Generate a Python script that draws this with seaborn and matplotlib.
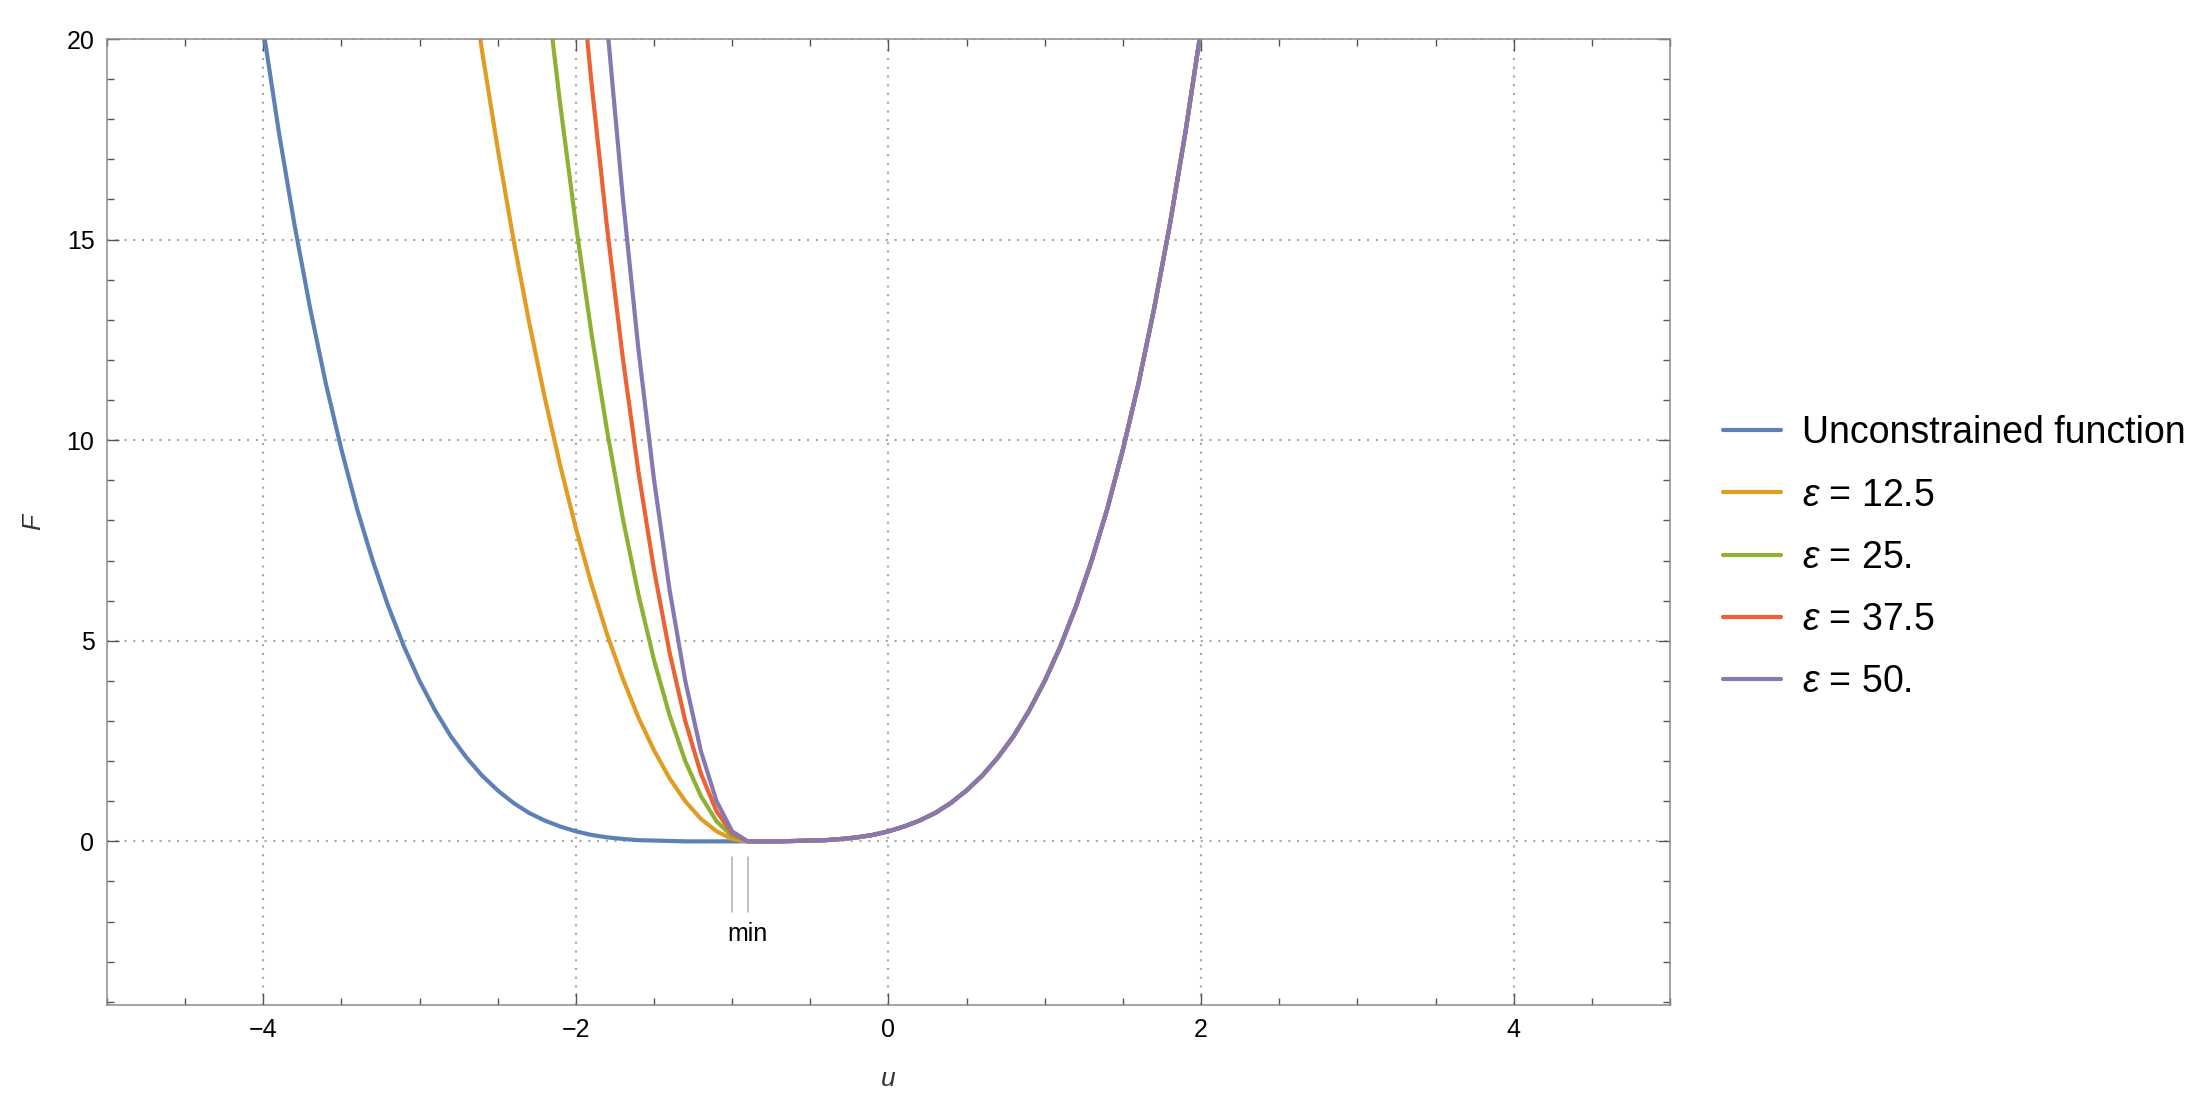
import pandas as pd
import seaborn as sns
from matplotlib import pyplot as plt
from matplotlib.ticker import MultipleLocator

u_grid = [-4.0, -3.9, -3.8, -3.7, -3.6, -3.5, -3.4, -3.3, -3.2, -3.1,
          -3.0, -2.9, -2.8, -2.7, -2.6, -2.5, -2.4, -2.3, -2.2, -2.1,
          -2.0, -1.9, -1.8, -1.7, -1.6, -1.5, -1.4, -1.3, -1.2, -1.1,
          -1.0, -0.9, -0.8, -0.7, -0.6, -0.5, -0.4, -0.3, -0.2, -0.1,
          0.0, 0.1, 0.2, 0.3, 0.4, 0.5, 0.6, 0.7, 0.8, 0.9,
          1.0, 1.1, 1.2, 1.3, 1.4, 1.5, 1.6, 1.7, 1.8, 1.9, 2.0]

# blue curve (unconstrained function)
f_free = [20.25, 17.68, 15.37, 13.29, 11.42, 9.77, 8.29, 7.00, 5.86, 4.86,
          4.00, 3.26, 2.62, 2.09, 1.64, 1.27, 0.96, 0.71, 0.52, 0.37,
          0.25, 0.16, 0.10, 0.06, 0.03, 0.02, 0.01, 0.00, 0.00, 0.00,
          0.00, 0.00, 0.00, 0.00, 0.01, 0.02, 0.03, 0.06, 0.10, 0.16,
          0.25, 0.37, 0.52, 0.71, 0.96, 1.27, 1.64, 2.09, 2.62, 3.26,
          4.00, 4.86, 5.86, 7.00, 8.29, 9.77, 11.42, 13.29, 15.37, 17.68, 20.25]

# left branches of the penalised curves (u < -0.9); None = above the chart
u_left = [-2.7, -2.6, -2.5, -2.4, -2.3, -2.2, -2.1, -2.0, -1.9,
          -1.8, -1.7, -1.6, -1.5, -1.4, -1.3, -1.2, -1.1, -1.0]
f_eps_12_5 = [22.34, 19.70, 17.27, 15.02, 12.96, 11.08, 9.37, 7.81, 6.41,
              5.16, 4.06, 3.09, 2.27, 1.57, 1.00, 0.56, 0.25, 0.06]
f_eps_25 = [None, None, None, None, None, 21.65, 18.37, 15.38, 12.66,
            10.23, 8.06, 6.16, 4.52, 3.14, 2.00, 1.13, 0.50, 0.13]
f_eps_37_5 = [None, None, None, None, None, None, None, 22.94, 18.91,
              15.29, 12.06, 9.22, 6.77, 4.70, 3.00, 1.69, 0.75, 0.19]
f_eps_50 = [None, None, None, None, None, None, None, None, None,
            20.35, 16.06, 12.28, 9.02, 6.26, 4.00, 2.25, 1.00, 0.25]

labels = ['Unconstrained function', r'$\varepsilon$ = 12.5', r'$\varepsilon$ = 25.',
          r'$\varepsilon$ = 37.5', r'$\varepsilon$ = 50.']
colors = ['#5e81b5', '#e19c24', '#8fb032', '#eb6235', '#8778b3']
min_marks = [-1.0, -0.9]

# long table for seaborn
rows = [(u, f, labels[0]) for u, f in zip(u_grid, f_free)]
for lab, left in zip(labels[1:], [f_eps_12_5, f_eps_25, f_eps_37_5, f_eps_50]):
    rows += [(u, f, lab) for u, f in zip(u_left, left) if f is not None]
    rows += [(u, f, lab) for u, f in zip(u_grid, f_free) if u >= -0.9]
df = pd.DataFrame(rows, columns=['u', 'F', 'curve'])

sns.set_style('ticks')
plt.rcParams['font.family'] = ['Liberation Sans', 'DejaVu Sans']
plt.rcParams['text.color'] = 'black'
plt.rcParams['mathtext.fontset'] = 'custom'
plt.rcParams['mathtext.rm'] = 'Liberation Sans'
plt.rcParams['mathtext.it'] = 'Liberation Sans:italic'

fig = plt.figure(figsize=(22, 10.99), dpi=100)
ax = fig.add_axes([0.0486, 0.0855, 0.7105, 0.879])

sns.lineplot(data=df, x='u', y='F', hue='curve', hue_order=labels, palette=colors,
             estimator=None, sort=True, linewidth=3, ax=ax)

# "min" marker under the minimum
for xm in min_marks:
    ax.plot([xm, xm], [-0.4, -1.75], color='#b0b0b0', lw=1.1)
ax.text(-0.9, -2.3, 'min', ha='center', va='center', fontsize=18)

ax.set_xlim(-5, 5)
ax.set_ylim(-4.08, 20)
ax.xaxis.set_major_locator(MultipleLocator(2))
ax.xaxis.set_minor_locator(MultipleLocator(0.5))
ax.yaxis.set_major_locator(MultipleLocator(5))
ax.yaxis.set_minor_locator(MultipleLocator(1))
ax.tick_params(which='both', direction='in', top=True, right=True,
               color='#555555', width=1.0, labelsize=18, labelcolor='black')
ax.tick_params(which='major', length=8.6, pad=9)
ax.tick_params(which='minor', length=5)
for sp in ax.spines.values():
    sp.set_color('#8c8c8c')
    sp.set_linewidth(1.1)

ax.set_axisbelow(True)
ax.grid(True, which='major', color='#a6a6a6', linestyle=(0, (1, 3.2)), linewidth=1.5)

ax.set_xlabel('u', fontsize=19, fontstyle='italic', color='#333333')
ax.set_ylabel('F', fontsize=19, fontstyle='italic', color='#333333')
ax.xaxis.set_label_coords(0.5, -0.0766)
ax.xaxis.label.set_verticalalignment('center')
ax.yaxis.set_label_coords(-0.0473, 0.5)
ax.yaxis.label.set_verticalalignment('center')

sns.move_legend(ax, loc='center left', bbox_to_anchor=(1.034, 0.463), title=None,
                frameon=False, fontsize=27, borderaxespad=0, borderpad=0,
                handlelength=1.55, handletextpad=0.56, labelspacing=0.70)
for h in ax.get_legend().legend_handles:
    h.set_linewidth(3)

fig.savefig('out.png', dpi=100)
